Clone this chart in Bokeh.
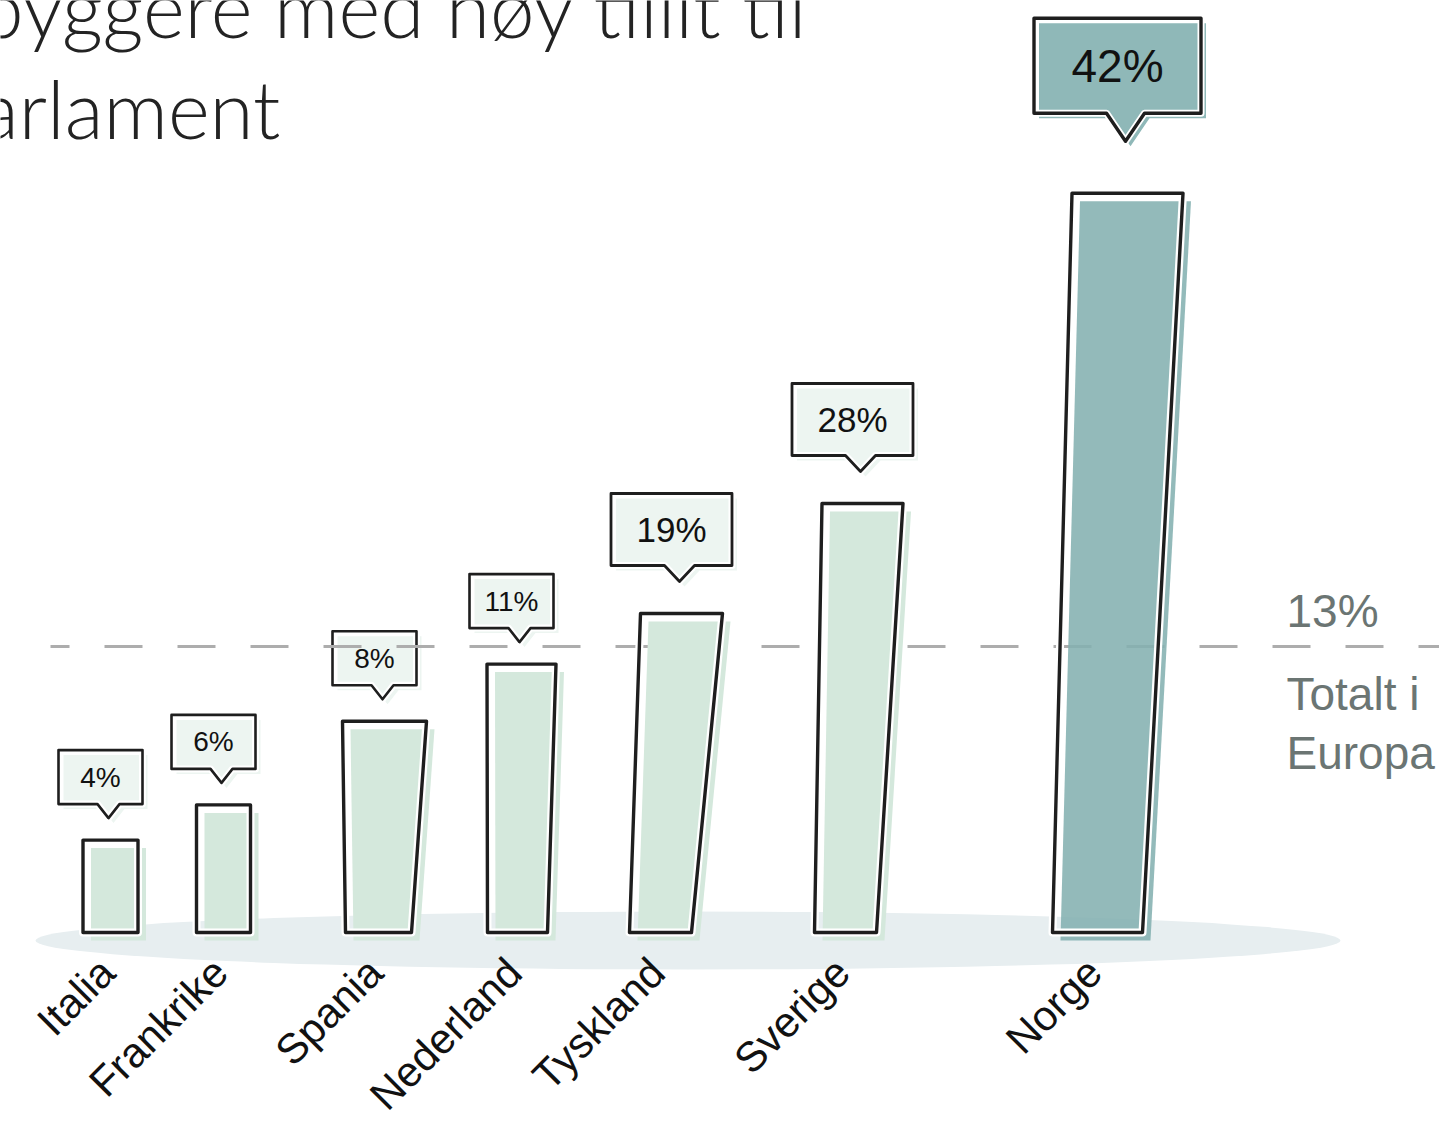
import math
from bokeh.plotting import figure
from bokeh.models import Range1d
from bokeh.core.properties import value
from bokeh.embed import file_html
from bokeh.resources import INLINE

# ---------------- data ----------------
countries = ["Italia", "Frankrike", "Spania", "Nederland", "Tyskland", "Sverige", "Norge"]
share_pct = [4, 6, 8, 11, 19, 28, 42]
# the infographic is not drawn to scale: drawn bar heights,
# expressed in the same % units as the 13 % reference line
drawn_height = [4.2, 5.8, 9.6, 12.2, 14.5, 19.5, 33.6]
europe_total = 13
highlight = "Norge"
title_lines = ["byggere med høy tillit til", "arlament"]
europe_label = ["Totalt i", "Europa"]

# ---------------- layout (pixels) ----------------
W, H = 1439, 1116
PX = 22.0            # pixels per % unit
BASE = 932           # baseline, px from top
bar_xb = [110, 223, 378, 517, 660, 845, 1097]   # bar bottom centre (px)
bar_lean = [0, 0, 6, 4, 21, 17, 30]             # hand-drawn lean of the top
bar_wb = [55, 54, 66, 60, 62, 62, 90]
bar_wt = [55, 54, 84, 69, 82, 81, 111]
BL = 0.38            # alphabetic-anchor correction (fraction of font size)


def py(screen_y):
    return (BASE - screen_y) / PX


FONT = value("Liberation Sans")
LIGHT = "#d4e8dc"
TEAL = "#84b1b1"
INK = "#1e1e1e"
GREY_TXT = "#6b7573"

p = figure(width=W, height=H, x_range=Range1d(0, W),
           y_range=Range1d(py(H), py(0)),
           output_backend="svg", toolbar_location=None, title=None,
           x_axis_location=None, y_axis_location=None, min_border=0)
p.grid.visible = False
p.outline_line_color = None
p.background_fill_color = "white"
p.border_fill_color = "white"

# ground shadow
p.ellipse(x=[687.5], y=[py(940)], width=[1305], height=[58 / PX],
          fill_color="#e7eef0", line_color=None)

# ---------------- callouts ----------------
TIERS = {
    "s": dict(w=84, h=54, pw=22, ph=14, gap=22, font="28px", lw=2.6),
    "m": dict(w=121, h=72, pw=30, ph=16, gap=32, font="35px", lw=2.8),
    "l": dict(w=167, h=95, pw=38, ph=28, gap=52, font="46px", lw=3.4),
}

c_xs, c_ys, c_sx, c_sy, c_fill, c_lw = [], [], [], [], [], []
t_x, t_y, t_txt, t_size = [], [], [], []
bar_top_x = []
for i, c in enumerate(countries):
    v = share_pct[i]
    tier = TIERS["s" if v < 15 else ("m" if v < 35 else "l")]
    xt = bar_xb[i] + bar_lean[i]
    bar_top_x.append(xt)
    h = drawn_height[i]
    tip_y = h + tier["gap"] / PX
    bot = tip_y + tier["ph"] / PX
    top = bot + tier["h"] / PX
    cx = xt - 10
    tx = xt - 2
    left, right = cx - tier["w"] / 2, cx + tier["w"] / 2
    xs = [left, right, right, tx + tier["pw"] / 2, tx, tx - tier["pw"] / 2, left]
    ys = [top, top, bot, bot, tip_y, bot, bot]
    c_xs.append(xs)
    c_ys.append(ys)
    c_sx.append([x + 5 for x in xs])
    c_sy.append([y - 5 / PX for y in ys])
    c_fill.append("#8fb8b8" if c == highlight else "#edf5f1")
    c_lw.append(tier["lw"])
    t_x.append(cx)
    t_y.append((top + bot) / 2)
    t_txt.append(f"{v}%")
    t_size.append(tier["font"])

p.patches(xs=c_sx, ys=c_sy, fill_color=c_fill, line_color=None)
p.patches(xs=c_xs, ys=c_ys, fill_color=None, line_color="white", line_width=7,
          line_join="round")
p.patches(xs=c_xs, ys=c_ys, fill_color=None, line_color=INK, line_width=c_lw,
          line_join="round")
p.text(x=t_x, y=t_y, text=t_txt, text_align="center", text_baseline="middle",
       text_font=FONT, text_font_size=t_size, text_color="#111111")

# ---------------- Europe reference line ----------------
p.line(x=[50, 1470], y=[europe_total, europe_total], line_color="#adadad",
       line_width=3, line_dash="38 35", line_dash_offset=19)
ES = 46
p.text(x=[1286], y=[europe_total + (18 + BL * ES) / PX], text=[f"{europe_total}%"],
       text_align="left", text_baseline="alphabetic", text_font=FONT,
       text_font_size=f"{ES}px", text_color=GREY_TXT)
p.text(x=[1286, 1286],
       y=[europe_total - (65 - BL * ES) / PX, europe_total - (124 - BL * ES) / PX],
       text=europe_label, text_align="left", text_baseline="alphabetic",
       text_font=FONT, text_font_size=f"{ES}px", text_color=GREY_TXT)

# ---------------- bars ----------------
b_xs, b_ys, f_xs, f_ys, b_fill, b_alpha = [], [], [], [], [], []
for i, c in enumerate(countries):
    xb = bar_xb[i]
    xt = bar_top_x[i]
    h = drawn_height[i]
    xs = [xb - bar_wb[i] / 2, xb + bar_wb[i] / 2, xt + bar_wt[i] / 2, xt - bar_wt[i] / 2]
    ys = [0, 0, h, h]
    b_xs.append(xs)
    b_ys.append(ys)
    f_xs.append([x + 8 for x in xs])
    f_ys.append([y - 8 / PX for y in ys])
    b_fill.append(TEAL if c == highlight else LIGHT)
    b_alpha.append(0.88 if c == highlight else 1.0)

p.patches(xs=f_xs, ys=f_ys, fill_color=b_fill, fill_alpha=b_alpha, line_color=None)
p.patches(xs=b_xs, ys=b_ys, fill_color=None, line_color="white", line_width=8,
          line_join="round")
p.patches(xs=b_xs, ys=b_ys, fill_color=None, line_color=INK, line_width=3.4,
          line_join="round")

# ---------------- category labels ----------------
LS = 42
shift = BL * LS * math.sqrt(0.5)
p.text(x=[x + 8 - shift for x in bar_xb], y=[py(976 - shift)] * len(countries),
       text=countries, angle=math.pi / 4, text_align="right",
       text_baseline="alphabetic", text_font=FONT, text_font_size=f"{LS}px",
       text_color="#111111")

# ---------------- title (cropped in the original) ----------------
TS = 80
p.text(x=[808, 280], y=[py(37 - BL * TS), py(138 - BL * TS)], text=title_lines,
       text_align="right", text_baseline="alphabetic",
       text_font=value("Lato Light, Lato"), text_font_size=f"{TS}px",
       text_color="#232323")

open("out.html", "w").write(file_html(p, INLINE))
